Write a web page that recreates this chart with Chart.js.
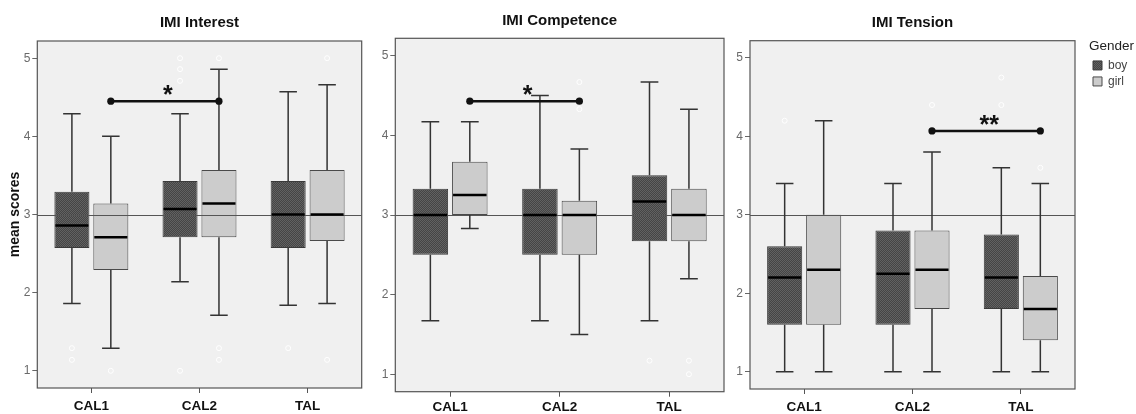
<!DOCTYPE html>
<html><head><meta charset="utf-8">
<script src="https://cdn.jsdelivr.net/npm/chart.js@4.4.1/dist/chart.umd.min.js"></script>
<style>
html,body{margin:0;padding:0;background:#fff;overflow:hidden;width:1136px;height:414px;}
.p{position:absolute;top:0;height:414px;}
#p1{left:0;width:370px}
#p2{left:370px;width:370px}
#p3{left:728px;width:408px}
</style></head><body>
<div class="p" id="p1"><canvas id="c1"></canvas></div>
<div class="p" id="p2"><canvas id="c2"></canvas></div>
<div class="p" id="p3"><canvas id="c3"></canvas></div>
<script>
// ---------- DATA ----------
const categories = ['CAL1', 'CAL2', 'TAL'];
const seriesNames = ['boy', 'girl'];
const panelTitles = ['IMI Interest', 'IMI Competence', 'IMI Tension'];
const yAxisTitle = 'mean scores';
const legendTitle = 'Gender';
const yTicks = [1, 2, 3, 4, 5];
const yMin = 0.78, yMax = 5.22;
const refValue = 3;

// each entry: [lower whisker, Q1, median, Q3, upper whisker] per category
const interestBoy  = [[1.86, 2.57, 2.86, 3.29, 4.29], [2.14, 2.71, 3.07, 3.43, 4.29], [1.84, 2.57, 3.00, 3.43, 4.57]];
const interestGirl = [[1.29, 2.29, 2.71, 3.14, 4.00], [1.71, 2.71, 3.14, 3.57, 4.86], [1.86, 2.66, 3.00, 3.57, 4.66]];
const interestBoyOut  = [[1.29, 1.14], [5.00, 4.86, 4.71, 1.00], [1.29]];
const interestGirlOut = [[1.00], [5.00, 1.29, 1.14], [5.00, 1.14]];

const competenceBoy  = [[1.67, 2.50, 3.00, 3.33, 4.17], [1.67, 2.50, 3.00, 3.33, 4.50], [1.67, 2.67, 3.17, 3.50, 4.67]];
const competenceGirl = [[2.83, 3.00, 3.25, 3.67, 4.17], [1.50, 2.50, 3.00, 3.18, 3.83], [2.20, 2.67, 3.00, 3.33, 4.33]];
const competenceBoyOut  = [[], [], [1.17]];
const competenceGirlOut = [[], [4.67, 4.33], [1.17, 1.00]];

const tensionBoy  = [[1.00, 1.60, 2.20, 2.60, 3.40], [1.00, 1.60, 2.25, 2.80, 3.40], [1.00, 1.80, 2.20, 2.75, 3.60]];
const tensionGirl = [[1.00, 1.60, 2.30, 3.00, 4.20], [1.00, 1.80, 2.30, 2.80, 3.80], [1.00, 1.40, 1.80, 2.22, 3.40]];
const tensionBoyOut  = [[4.20], [], [4.75, 4.40]];
const tensionGirlOut = [[], [4.40], [3.60]];

// significance brackets (between girl boxes): from category, to category, value, label
const sigFrom  = [0, 0, 1];
const sigTo    = [1, 1, 2];
const sigValue = [4.45, 4.43, 4.07];
const sigLabel = ['*', '*', '**'];

// ---------- RENDERING ----------
const F = '"Liberation Sans", Arial, sans-serif';

function hatchPattern() {
  const c = document.createElement('canvas');
  c.width = 2; c.height = 2;
  const x = c.getContext('2d');
  x.fillStyle = '#454545'; x.fillRect(0, 0, 2, 2);
  x.fillStyle = '#626262'; x.fillRect(0, 0, 1, 1); x.fillRect(1, 1, 1, 1);
  return x.createPattern(c, 'repeat');
}

const decoPlugin = {
  id: 'boxdeco',
  beforeDraw(chart) {
    const {ctx, chartArea: a} = chart;
    ctx.save();
    ctx.fillStyle = '#f0f0f0';
    ctx.fillRect(a.left, a.top, a.width, a.height);
    ctx.restore();
  },
  afterDatasetsDraw(chart) {
    const ctx = chart.ctx, ys = chart.scales.y, a = chart.chartArea;
    const py = v => ys.getPixelForValue(v);
    const pIdx = chart.options.plugins.boxdeco.panel;
    ctx.save();
    // reference line
    ctx.strokeStyle = '#555'; ctx.lineWidth = 1;
    ctx.beginPath();
    ctx.moveTo(a.left, Math.round(py(refValue)) + 0.5);
    ctx.lineTo(a.right, Math.round(py(refValue)) + 0.5);
    ctx.stroke();
    chart.data.datasets.forEach((ds, di) => {
      const meta = chart.getDatasetMeta(di);
      meta.data.forEach((bar, i) => {
        const s = ds.stats[i];
        const x = bar.x, w = bar.width, cap = w * 0.5;
        ctx.strokeStyle = '#333'; ctx.lineWidth = 1.5;
        ctx.beginPath();
        ctx.moveTo(x, py(s[3])); ctx.lineTo(x, py(s[4]));
        ctx.moveTo(x - cap / 2, py(s[4])); ctx.lineTo(x + cap / 2, py(s[4]));
        ctx.moveTo(x, py(s[1])); ctx.lineTo(x, py(s[0]));
        ctx.moveTo(x - cap / 2, py(s[0])); ctx.lineTo(x + cap / 2, py(s[0]));
        ctx.stroke();
        ctx.strokeStyle = '#000'; ctx.lineWidth = 2.5;
        ctx.beginPath();
        ctx.moveTo(x - w / 2 + 1, py(s[2])); ctx.lineTo(x + w / 2 - 1, py(s[2]));
        ctx.stroke();
        ctx.strokeStyle = '#ffffff'; ctx.lineWidth = 1;
        ds.outliers[i].forEach(o => {
          ctx.beginPath(); ctx.arc(x, py(o), 2.5, 0, Math.PI * 2); ctx.stroke();
        });
      });
    });
    // significance bracket on girl series
    const gm = chart.getDatasetMeta(1);
    const x1 = gm.data[sigFrom[pIdx]].x, x2 = gm.data[sigTo[pIdx]].x, yy = py(sigValue[pIdx]);
    ctx.strokeStyle = '#111'; ctx.fillStyle = '#111'; ctx.lineWidth = 2.5;
    ctx.beginPath(); ctx.moveTo(x1, yy); ctx.lineTo(x2, yy); ctx.stroke();
    [x1, x2].forEach(xx => { ctx.beginPath(); ctx.arc(xx, yy, 3.6, 0, Math.PI * 2); ctx.fill(); });
    ctx.font = 'bold 25px ' + F;
    ctx.textAlign = 'center'; ctx.textBaseline = 'alphabetic';
    ctx.fillText(sigLabel[pIdx], (x1 + x2) / 2 + 3, yy + 2);
    // frame
    ctx.strokeStyle = '#555'; ctx.lineWidth = 1.2;
    ctx.strokeRect(a.left, a.top, a.width, a.height);
    ctx.restore();
  }
};

const legendPlugin = {
  id: 'legendpos',
  beforeLayout(chart) {
    const lg = chart.legend, o = chart.options.plugins.legendpos;
    if (lg && o.width && !lg._fx) {
      const f = lg.fit.bind(lg);
      lg.fit = function () { f(); this.width = o.width; };
      lg._fx = true;
    }
  },
  afterLayout(chart) {
    const lg = chart.legend, o = chart.options.plugins.legendpos;
    if (lg && o.width) { lg.left += o.shift; lg.right += o.shift; }
  }
};

const pattern = hatchPattern();

function makePanel(id, idx, boy, girl, boyOut, girlOut, cfg) {
  new Chart(document.getElementById(id), {
    type: 'bar',
    data: {
      labels: categories,
      datasets: [
        { label: seriesNames[0], data: boy.map(s => [s[1], s[3]]), stats: boy, outliers: boyOut,
          backgroundColor: pattern, borderColor: '#3a3a3a', borderWidth: 1, borderSkipped: false,
          barPercentage: 0.9, categoryPercentage: 0.72 },
        { label: seriesNames[1], data: girl.map(s => [s[1], s[3]]), stats: girl, outliers: girlOut,
          backgroundColor: '#cccccc', borderColor: '#4a4a4a', borderWidth: 1, borderSkipped: false,
          barPercentage: 0.9, categoryPercentage: 0.72 }
      ]
    },
    options: {
      responsive: true, maintainAspectRatio: false, animation: false,
      events: [],
      layout: { padding: { left: 0, right: cfg.padRight, top: 0, bottom: 0 } },
      plugins: {
        boxdeco: { panel: idx },
        legendpos: { width: cfg.legendW || 0, shift: cfg.legendShift || 0 },
        title: { display: true, text: panelTitles[idx], fullSize: false, color: '#111',
          font: { family: F, size: 15, weight: 'bold' }, padding: { top: cfg.tTop, bottom: cfg.tBot } },
        legend: cfg.legend ? {
          display: true, position: 'right', align: 'start',
          title: { display: true, text: legendTitle, position: 'start', color: '#222',
            font: { family: F, size: 13.5 }, padding: { top: 39.25, bottom: 0 } },
          labels: { boxWidth: 9, boxHeight: 9, padding: 4, color: '#444', font: { family: F, size: 12 } }
        } : { display: false },
        tooltip: { enabled: false }
      },
      scales: {
        x: {
          grid: { display: true, drawOnChartArea: false, offset: false, tickLength: 5, color: '#555' },
          border: { display: false },
          ticks: { font: { family: F, size: 13.5, weight: 'bold' }, color: '#111', padding: cfg.xPad, maxRotation: 0 },
          afterFit(s) { s.height = cfg.xH; }
        },
        y: {
          min: yMin, max: yMax,
          afterBuildTicks(s) { s.ticks = yTicks.map(v => ({ value: v })); },
          grid: { drawOnChartArea: false, tickLength: 5, color: '#666' },
          border: { display: false },
          ticks: { font: { family: F, size: 12 }, color: '#6a6a6a', padding: 2 },
          title: { display: !!cfg.yTitle, text: yAxisTitle, color: '#111',
            font: { family: F, size: 14, weight: 'bold' }, padding: { top: 7.1, bottom: 0 } },
          afterFit(s) { s.width = cfg.yW; }
        }
      }
    },
    plugins: [decoPlugin, legendPlugin]
  });
}

makePanel('c1', 0, interestBoy, interestGirl, interestBoyOut, interestGirlOut,
  { yW: 37.3, padRight: 8.3, tTop: 13.7, tBot: 9.3, xH: 26, xPad: 5.6, yTitle: true });
makePanel('c2', 1, competenceBoy, competenceGirl, competenceBoyOut, competenceGirlOut,
  { yW: 25.3, padRight: 16, tTop: 11.7, tBot: 8.6, xH: 22.3, xPad: 2.5 });
makePanel('c3', 2, tensionBoy, tensionGirl, tensionBoyOut, tensionGirlOut,
  { yW: 22, padRight: 0, tTop: 14.3, tBot: 8.4, xH: 25, xPad: 5.2, legend: true, legendW: 61, legendShift: 14 });
</script>
</body></html>
